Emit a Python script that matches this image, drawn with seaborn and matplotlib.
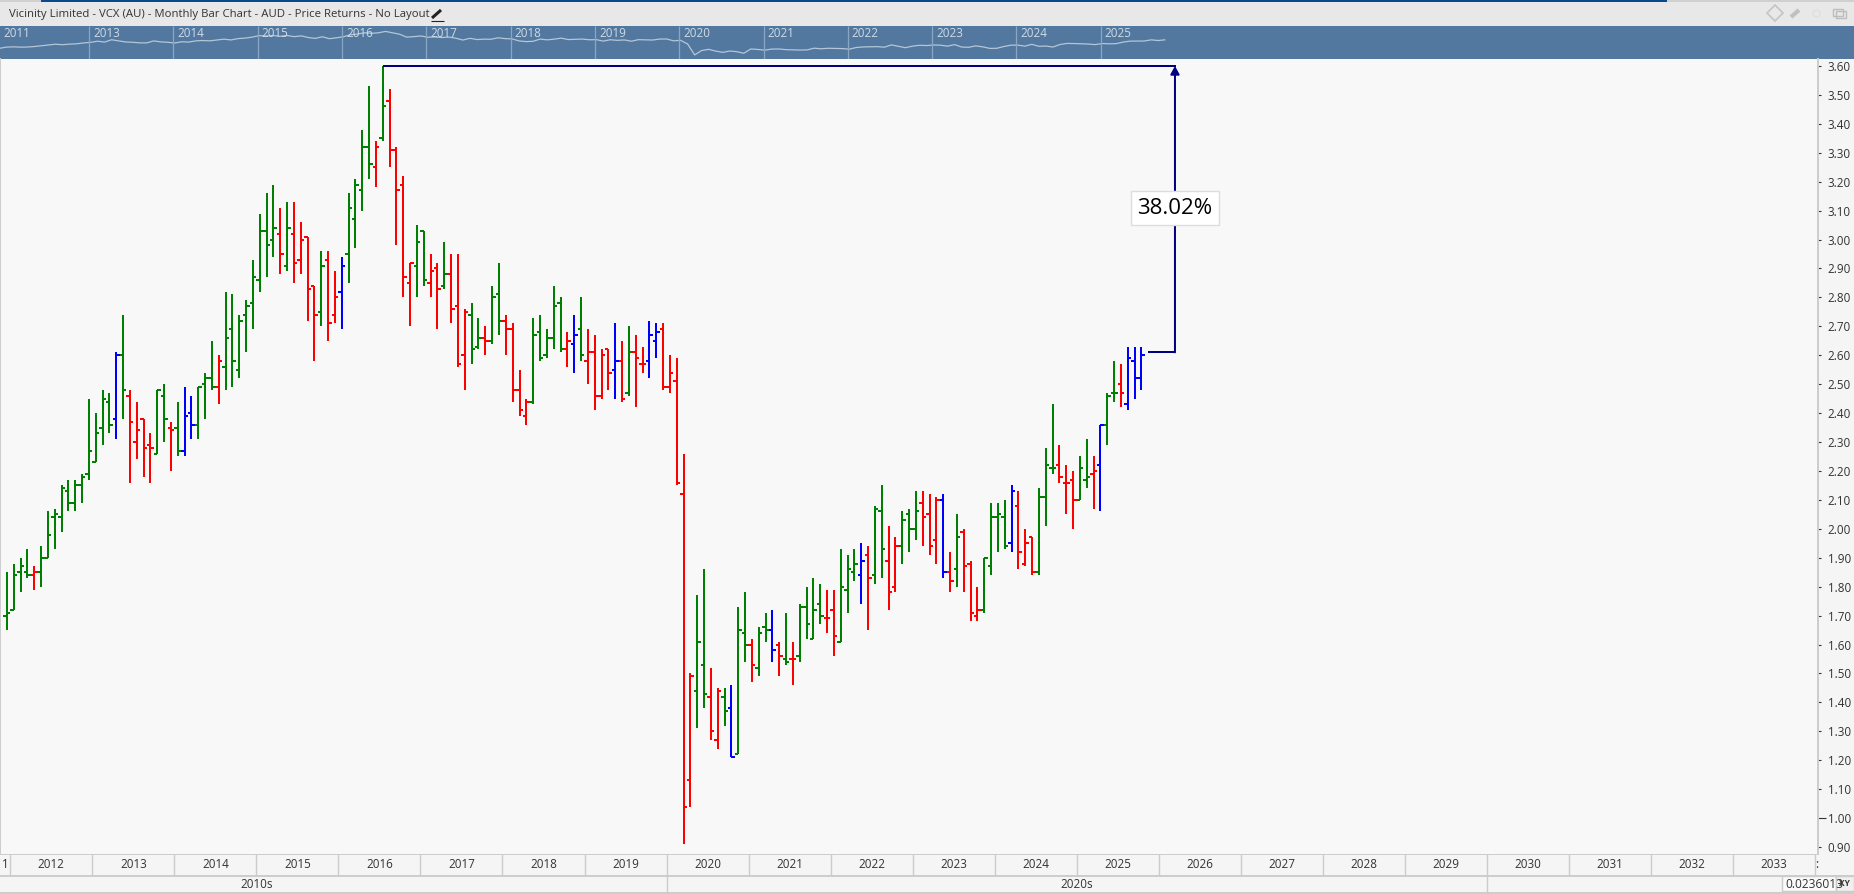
import numpy as np
import pandas as pd
import matplotlib
matplotlib.use("Agg")
import matplotlib.pyplot as plt
from matplotlib.patches import Rectangle
import seaborn as sns

# DADOS (um valor por mes, de dez/2011 ate out/2025)

maximas = [1.85,
    1.88,1.90,1.93,1.87,1.94,2.06,2.07,2.15,2.17,2.17,2.19,2.45,
    2.40,2.48,2.47,2.61,2.74,2.48,2.44,2.38,2.33,2.48,2.50,2.37,
    2.44,2.49,2.46,2.49,2.54,2.65,2.60,2.82,2.81,2.74,2.79,2.93,
    3.09,3.16,3.19,3.11,3.13,3.13,3.06,3.01,2.84,2.96,2.96,2.89,
    2.94,3.16,3.21,3.38,3.53,3.34,3.60,3.52,3.32,3.22,2.92,3.05,
    3.03,2.95,2.92,2.99,2.95,2.95,2.76,2.78,2.73,2.70,2.84,2.92,
    2.74,2.71,2.55,2.45,2.73,2.74,2.69,2.84,2.80,2.68,2.74,2.80,
    2.69,2.67,2.62,2.62,2.71,2.65,2.70,2.67,2.63,2.72,2.71,2.71,
    2.60,2.59,2.26,1.50,1.77,1.86,1.52,1.45,1.45,1.46,1.73,1.78,
    1.62,1.66,1.71,1.72,1.61,1.71,1.61,1.74,1.80,1.83,1.81,1.79,
    1.79,1.93,1.91,1.93,1.95,1.94,2.08,2.15,2.01,1.97,2.06,2.07,
    2.13,2.13,2.12,2.11,2.12,1.92,2.05,2.00,1.89,1.80,1.90,2.09,
    2.09,2.10,2.15,2.13,2.00,1.97,2.14,2.28,2.43,2.29,2.22,2.20,
    2.25,2.31,2.25,2.36,2.47,2.58,2.57,2.63,2.63,2.63]

minimas = [1.65,
    1.72,1.78,1.83,1.79,1.80,1.90,1.93,1.99,2.06,2.06,2.09,2.17,
    2.23,2.29,2.33,2.31,2.38,2.16,2.24,2.18,2.16,2.26,2.30,2.20,
    2.25,2.25,2.31,2.31,2.38,2.48,2.43,2.48,2.49,2.52,2.61,2.69,
    2.82,2.87,2.94,2.88,2.89,2.85,2.88,2.72,2.58,2.70,2.65,2.71,
    2.69,2.85,2.97,3.10,3.21,3.18,3.34,3.25,2.98,2.80,2.70,2.80,
    2.84,2.80,2.69,2.83,2.71,2.56,2.48,2.57,2.62,2.60,2.64,2.67,
    2.60,2.44,2.39,2.36,2.43,2.58,2.59,2.62,2.61,2.56,2.54,2.58,
    2.50,2.41,2.45,2.48,2.45,2.44,2.46,2.42,2.54,2.52,2.59,2.48,
    2.47,2.15,0.91,1.04,1.31,1.38,1.27,1.24,1.32,1.21,1.22,1.54,
    1.47,1.49,1.61,1.54,1.49,1.53,1.46,1.54,1.62,1.62,1.67,1.64,
    1.56,1.61,1.71,1.82,1.74,1.65,1.81,1.83,1.72,1.78,1.88,1.92,
    1.96,1.94,1.91,1.88,1.83,1.78,1.80,1.78,1.68,1.68,1.71,1.84,
    1.92,1.93,1.92,1.86,1.87,1.84,1.84,2.01,2.19,2.16,2.05,2.00,
    2.10,2.14,2.07,2.06,2.29,2.44,2.42,2.41,2.45,2.48]

aberturas = [1.70,
    1.72,1.85,1.85,1.84,1.85,1.90,2.04,2.04,2.13,2.09,2.15,2.19,
    2.23,2.35,2.44,2.38,2.60,2.46,2.30,2.38,2.29,2.26,2.46,2.35,
    2.35,2.27,2.40,2.36,2.50,2.52,2.49,2.56,2.69,2.55,2.74,2.78,
    2.86,3.03,3.00,3.02,2.91,3.02,2.93,3.01,2.84,2.75,2.93,2.74,
    2.82,2.95,3.07,3.17,3.32,3.25,3.35,3.48,3.31,3.19,2.85,2.91,
    3.03,2.85,2.90,2.84,2.88,2.77,2.60,2.74,2.63,2.66,2.65,2.81,
    2.72,2.69,2.48,2.39,2.44,2.68,2.60,2.66,2.78,2.62,2.64,2.69,
    2.58,2.61,2.46,2.62,2.55,2.58,2.47,2.61,2.57,2.58,2.65,2.69,
    2.49,2.51,2.12,1.13,1.44,1.53,1.42,1.27,1.42,1.38,1.22,1.64,
    1.60,1.52,1.66,1.65,1.60,1.55,1.55,1.56,1.73,1.62,1.74,1.69,
    1.72,1.61,1.79,1.85,1.84,1.91,1.84,2.06,1.89,1.80,1.94,2.05,
    2.00,2.09,2.05,1.96,2.10,1.85,1.86,1.99,1.88,1.70,1.72,1.87,
    2.04,2.04,1.95,2.08,1.88,1.97,1.85,2.11,2.21,2.22,2.16,2.17,
    2.10,2.17,2.19,2.22,2.36,2.47,2.50,2.43,2.58,2.52]

fechamentos = [1.71,
    1.84,1.87,1.84,1.85,1.90,1.98,2.05,2.14,2.09,2.15,2.18,2.27,
    2.33,2.45,2.36,2.60,2.48,2.37,2.34,2.28,2.28,2.48,2.38,2.34,
    2.27,2.39,2.36,2.49,2.52,2.49,2.58,2.66,2.58,2.72,2.77,2.87,
    3.03,2.98,3.04,2.95,3.04,2.92,3.00,2.83,2.74,2.91,2.71,2.80,
    2.91,3.11,3.19,3.32,3.26,3.32,3.46,3.31,3.17,2.87,2.92,2.99,
    2.86,2.89,2.83,2.88,2.76,2.57,2.75,2.62,2.66,2.65,2.80,2.72,
    2.69,2.48,2.41,2.44,2.67,2.59,2.66,2.77,2.62,2.65,2.67,2.60,
    2.61,2.46,2.60,2.54,2.58,2.45,2.61,2.59,2.57,2.67,2.68,2.49,
    2.54,2.16,1.04,1.49,1.61,1.43,1.30,1.44,1.37,1.21,1.65,1.60,
    1.53,1.64,1.65,1.58,1.56,1.54,1.55,1.73,1.67,1.72,1.70,1.69,
    1.63,1.80,1.86,1.88,1.89,1.83,2.07,1.93,1.78,1.94,2.03,2.00,
    2.06,2.04,1.94,2.10,1.85,1.82,1.97,1.87,1.71,1.72,1.90,2.04,
    2.05,1.94,2.13,1.92,1.95,1.85,2.11,2.22,2.21,2.18,2.16,2.10,
    2.21,2.18,2.20,2.36,2.46,2.47,2.47,2.59,2.52,2.60]

# meses (0 = jan/2012) com barra vermelha ou azul; o resto e verde
meses_vermelhos = [3,17,18,19,20,23,30,39,41,42,43,44,46,47,53,55,56,57,58,61,62,
                   64,65,66,69,72,73,74,75,81,84,85,86,87,89,91,92,95,96,97,98,99,
                   102,103,108,112,114,119,120,125,128,129,133,134,135,137,139,140,
                   141,147,148,149,153,154,155,158,162]
meses_azuis = [15,25,26,48,82,88,93,94,105,111,124,136,146,159,163,164,165]

anos_eixo = list(range(2012, 2034))
anos_slider = [2013, 2014, 2015, 2016, 2017, 2018, 2019, 2020, 2021, 2022, 2023, 2024, 2025]
precos_eixo = [round(0.9 + 0.1 * k, 2) for k in range(28)]
titulo = "Vicinity Limited - VCX (AU) - Monthly Bar Chart - AUD - Price Returns - No Layout"
preco_pico = 3.60
preco_atual = 2.61
rotulo_retorno = "38.02%"

# TEMA

sns.set_theme(style="white")
plt.rcParams["font.family"] = ["Open Sans", "DejaVu Sans"]
plt.rcParams["lines.solid_capstyle"] = "butt"

W, H = 1854, 894
LARG = 2 * 72 / 100  # 2 px em pontos
TEXTO = "#333333"
CINZA = "#cccccc"
CORES = {"verde": "#008000", "vermelho": "#ff0000", "azul": "#0000ff"}

fig = plt.figure(figsize=(W / 100, H / 100), dpi=100, facecolor="#f5f5f5")


def eixo_px(esq, topo, dir, base, **kw):
    return fig.add_axes([esq / W, 1 - base / H, (dir - esq) / W, (base - topo) / H], **kw)


# MOLDURA (cabecalho e eixo do tempo, em pixels)

moldura = eixo_px(0, 0, W, H)
moldura.set_xlim(0, W)
moldura.set_ylim(H, 0)
moldura.axis("off")
moldura.add_patch(Rectangle((0, 0), W, 26, color="#e8e8e8", lw=0))
moldura.add_patch(Rectangle((0, 0), W, 1.6, color="#d0d0d0", lw=0))
moldura.add_patch(Rectangle((41, 0), 1626, 1.6, color="#0b4a8a", lw=0))
moldura.text(9, 14, titulo, fontsize=8.2, color=TEXTO, va="center", ha="left")

# lapis
moldura.plot([432, 441], [18, 10], color="#222222", lw=2.2)
moldura.plot([431, 444], [20.5, 20.5], color="#222222", lw=0.8)
# icones da direita
moldura.plot([1775], [13], marker="D", ms=8, mfc="none", mec="#c4c4c4", mew=1.2)
moldura.plot([1791, 1799], [17, 10], color="#c0c0c0", lw=3)
moldura.plot([1816], [13], marker="o", ms=5, mfc="none", mec="#e0e0e0", mew=1)
moldura.add_patch(Rectangle((1833, 9), 10, 7, fc="none", ec="#bdbdbd", lw=1))
moldura.add_patch(Rectangle((1836, 11), 10, 7, fc="none", ec="#bdbdbd", lw=1))

# eixo do tempo
x_ano = lambda a: 10.3 + (a - 2012) * 82.03
moldura.plot([0, 1818], [854, 854], color=CINZA, lw=1.4)
moldura.plot([0, W], [875.5, 875.5], color=CINZA, lw=1.4)
moldura.plot([0, W], [892.8, 892.8], color=CINZA, lw=1.4)
for a in anos_eixo + [2034]:
    moldura.plot([x_ano(a)] * 2, [854, 875.5], color=CINZA, lw=1)
for a in anos_eixo:
    moldura.text(x_ano(a) + 41, 865, str(a), fontsize=8.4, color=TEXTO, ha="center", va="center")
moldura.text(5.5, 865, "1", fontsize=8.4, color=TEXTO, ha="center", va="center")
moldura.text(1816.5, 865, ":", fontsize=8.4, color=TEXTO, ha="center", va="center")
for a in [2020, 2030]:
    moldura.plot([x_ano(a)] * 2, [875.5, 893], color=CINZA, lw=1)
moldura.text(257, 884, "2010s", fontsize=8.4, color=TEXTO, ha="center", va="center")
moldura.text(1077, 884, "2020s", fontsize=8.4, color=TEXTO, ha="center", va="center")

moldura.add_patch(Rectangle((1782, 876), 54, 15, fc="#fafafa", ec=CINZA, lw=1, zorder=3))
t = moldura.text(1785, 884, "0.0236013", fontsize=8.6, color=TEXTO, va="center", zorder=4)
t.set_clip_path(Rectangle((1782, 876), 54, 15, transform=moldura.transData))
moldura.add_patch(Rectangle((1836, 876), 18, 15, fc="#f0f0f0", ec=CINZA, lw=1, zorder=3))
moldura.text(1844, 884, "XY", fontsize=6, color=TEXTO, fontweight="bold", ha="center", va="center", zorder=4)

# TABELA DOS PRECOS

df = pd.DataFrame({"maxima": maximas, "minima": minimas, "abertura": aberturas, "fechamento": fechamentos})
df["mes"] = np.arange(len(df)) - 1
df["cor"] = "verde"
df.loc[df["mes"].isin(meses_vermelhos), "cor"] = "vermelho"
df.loc[df["mes"].isin(meses_azuis), "cor"] = "azul"
hastes = df.melt(id_vars=["mes", "cor"], value_vars=["minima", "maxima"], value_name="preco")

# SLIDER

slider = eixo_px(0, 26, W, 59)
slider.set_facecolor("#52789f")
slider.set_xlim(2016 - 342 / 84.3, 2016 + (W - 342) / 84.3)
# mesma escala da linha: 9.7 px por unidade de preco
slider.set_ylim(1.75 - 11 / 9.7, 1.75 + 22 / 9.7)
serie = pd.DataFrame({"t": 2012 + (df["mes"] + 0.2) / 12, "preco": df["fechamento"]})
sns.lineplot(data=serie, x="t", y="preco", color="#b4c6d8", linewidth=0.9, estimator=None, ax=slider)
for a in anos_slider:
    slider.axvline(a, color="#8ba6c2", lw=0.9)
    slider.text(a + 4 / 84.3, 0.78, str(a), transform=slider.get_xaxis_transform(),
                color="#cfdbe7", fontsize=8.4, va="center")
slider.text(2016 - 339 / 84.3, 0.78, "2011", transform=slider.get_xaxis_transform(),
            color="#cfdbe7", fontsize=8.4, va="center")
slider.set_xticks([])
slider.set_yticks([])
slider.set_xlabel("")
slider.set_ylabel("")
for lado in slider.spines.values():
    lado.set_visible(False)

# GRAFICO PRINCIPAL

ax = eixo_px(0, 59, 1818, 854)
ax.set_facecolor("#f8f8f8")
ax.set_xlim(-2.007, 263.98)
ax.set_ylim(0.9 + (847 - 854) * 0.003457, 0.9 + (847 - 59) * 0.003457)

sns.lineplot(data=hastes, x="mes", y="preco", hue="cor", units="mes", estimator=None,
             palette=CORES, linewidth=LARG, legend=False, sort=False, ax=ax)
for linha in ax.lines:
    linha.set_antialiased(False)
cores_barra = [CORES[c] for c in df["cor"]]
ax.hlines(df["abertura"], df["mes"] - 0.5, df["mes"], colors=cores_barra, linewidths=LARG, antialiased=False)
ax.hlines(df["fechamento"], df["mes"], df["mes"] + 0.5, colors=cores_barra, linewidths=LARG, antialiased=False)

# medicao de retorno
NAVY = "#000080"
mes_pico = df.loc[df["maxima"].idxmax(), "mes"]
x_seta = 169.9
ax.plot([mes_pico, x_seta + 0.2], [preco_pico, preco_pico], color=NAVY, lw=LARG)
ax.plot([166.0, x_seta], [preco_atual, preco_atual], color=NAVY, lw=LARG)
ax.annotate("", xy=(x_seta, preco_pico), xytext=(x_seta, preco_atual),
            arrowprops=dict(arrowstyle="-|>,head_width=0.22,head_length=0.4", color=NAVY, lw=LARG,
                            shrinkA=0, shrinkB=0))
ax.text(x_seta, 3.108, rotulo_retorno, fontsize=16, color="black", ha="center", va="center",
        bbox=dict(boxstyle="square,pad=0.3", fc="white", ec="#dddddd", lw=1))

ax.set_xlabel("")
ax.set_ylabel("")
ax.set_xticks([])
ax.yaxis.tick_right()
ax.set_yticks(precos_eixo)
ax.set_yticklabels([f"{p:.2f}" for p in precos_eixo])
ax.tick_params(axis="y", which="major", right=True, length=2.4, width=0.8, color="#333333",
               labelsize=8.4, labelcolor=TEXTO, pad=4.5)
ax.yaxis.get_major_ticks()[1].tick2line.set_markersize(5.8)
for nome, lado in ax.spines.items():
    lado.set_visible(nome in ("left", "right"))
    lado.set_color(CINZA)
    lado.set_linewidth(1.4)

fig.savefig("out.png", dpi=100, facecolor=fig.get_facecolor())
